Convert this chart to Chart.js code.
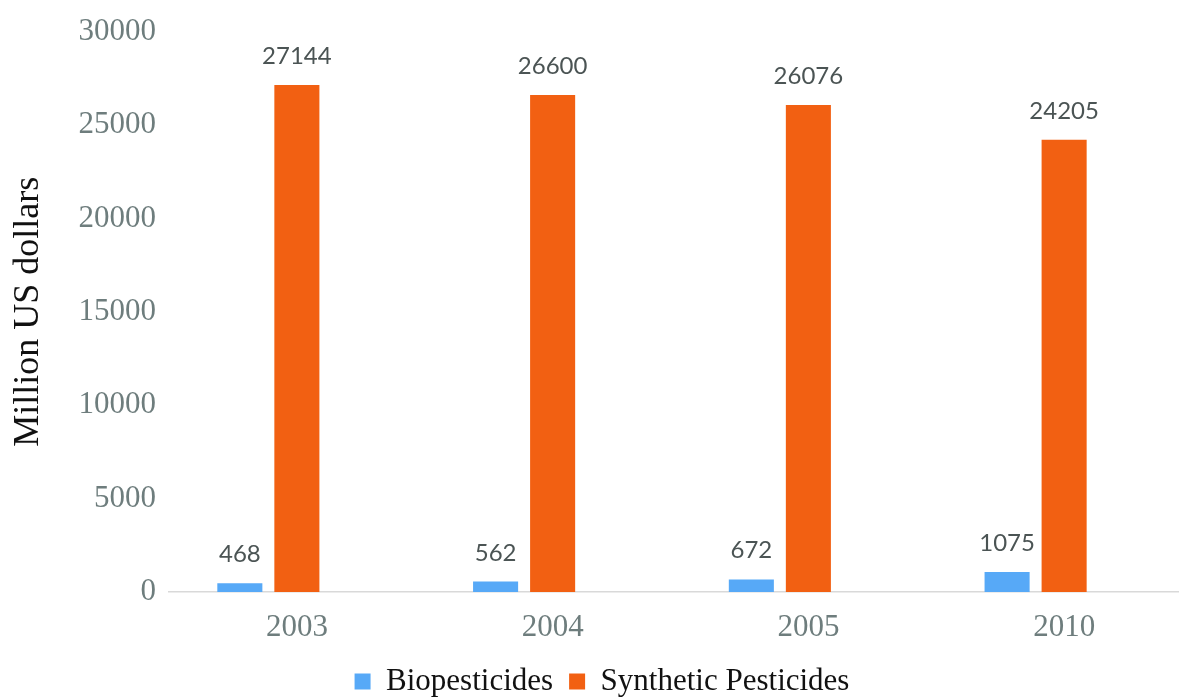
<!DOCTYPE html>
<html>
<head>
<meta charset="utf-8">
<script src="https://cdn.jsdelivr.net/npm/chart.js@4"></script>
<style>
  html, body { margin: 0; padding: 0; background: #ffffff; overflow: hidden; }
  #wrap { width: 1200px; height: 698px; position: relative; }
</style>
</head>
<body>
<div id="wrap"><canvas id="c"></canvas></div>
<script>
const categories = ['2003', '2004', '2005', '2010'];
const biopesticides = [468, 562, 672, 1075];
const syntheticPesticides = [27144, 26600, 26076, 24205];
const yTicks = [0, 5000, 10000, 15000, 20000, 25000, 30000];

const valueLabels = {
  id: 'valueLabels',
  afterDatasetsDraw(chart) {
    const ctx = chart.ctx;
    ctx.save();
    ctx.font = '24px Lato, "Open Sans", sans-serif';
    ctx.fillStyle = '#4b5454';
    ctx.textAlign = 'center';
    ctx.textBaseline = 'alphabetic';
    chart.data.datasets.forEach((ds, di) => {
      const meta = chart.getDatasetMeta(di);
      meta.data.forEach((bar, i) => {
        const v = ds.data[i];
        if (v === null || v === undefined) return;
        ctx.fillText(String(v), bar.x, bar.y - 21);
      });
    });
    ctx.restore();
  }
};

new Chart(document.getElementById('c'), {
  type: 'bar',
  data: {
    labels: categories,
    datasets: [
      { label: 'Biopesticides', data: biopesticides, backgroundColor: '#57a9f7' },
      { label: 'Synthetic Pesticides', data: syntheticPesticides, backgroundColor: '#f26012' },
      { label: '', data: categories.map(() => null), backgroundColor: 'rgba(0,0,0,0)' }
    ]
  },
  options: {
    responsive: true,
    maintainAspectRatio: false,
    animation: false,
    devicePixelRatio: 1,
    datasets: { bar: { categoryPercentage: 0.669, barPercentage: 0.79 } },
    layout: { padding: { left: 12, right: 8, top: 28, bottom: -9 } },
    plugins: {
      tooltip: { enabled: false },
      legend: {
        position: 'bottom',
        labels: {
          filter: (item) => item.text !== '',
          boxWidth: 16,
          boxHeight: 16,
          padding: 16,
          color: '#111111',
          font: { family: '"Liberation Serif", "Times New Roman", serif', size: 31 }
        }
      }
    },
    scales: {
      x: {
        grid: { display: false, drawTicks: false },
        border: { display: true, color: '#d9d9d9', width: 1.5 },
        ticks: {
          color: '#6e7d7d',
          padding: 17,
          font: { family: '"Liberation Serif", "Times New Roman", serif', size: 31 }
        },
        afterFit: (s) => { s.height = 58; }
      },
      y: {
        min: 0,
        max: 30000,
        grid: { display: false, drawTicks: false },
        border: { display: false },
        afterBuildTicks: (s) => { s.ticks = yTicks.map(v => ({ value: v })); },
        ticks: {
          color: '#6e7d7d',
          padding: 13,
          callback: (value) => String(value),
          font: { family: '"Liberation Serif", "Times New Roman", serif', size: 31 }
        },
        title: {
          display: true,
          text: 'Million US dollars',
          color: '#111111',
          padding: { top: -5, bottom: 0 },
          font: { family: '"Liberation Serif", "Times New Roman", serif', size: 36 }
        },
        afterFit: (s) => { s.width = 157; }
      }
    }
  },
  plugins: [valueLabels]
});
</script>
</body>
</html>
